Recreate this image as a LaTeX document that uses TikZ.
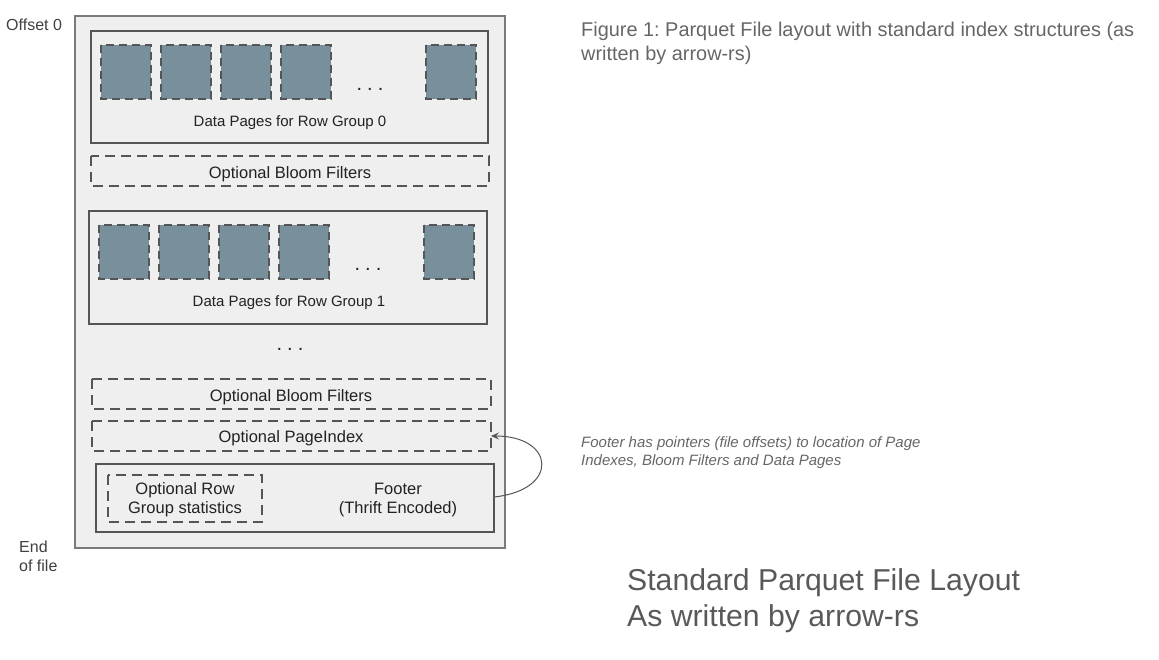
\documentclass[tikz,border=0pt]{standalone}
\usepackage{fontspec}
\setmainfont{Liberation Sans}
\usetikzlibrary{arrows.meta}
\frenchspacing
\definecolor{outerfill}{HTML}{EFEFEF}
\definecolor{outerline}{HTML}{7A7A7A}
\definecolor{boxline}{HTML}{555555}
\definecolor{pagefill}{HTML}{78909C}
\definecolor{txtdark}{HTML}{222222}
\definecolor{txtgray}{HTML}{666666}
\definecolor{titlegray}{HTML}{595959}
\tikzset{
  outerbox/.style={draw=outerline, fill=outerfill, line width=1.2pt},
  groupbox/.style={draw=boxline, line width=2.4pt},
  optbox/.style={draw=boxline, line width=2.4pt, dash pattern=on 10pt off 6pt},
  pagebox/.style={draw=boxline, fill=pagefill, line width=2.4pt, dash pattern=on 8pt off 5pt},
  lbl/.style={text=txtdark, font=\fontsize{15}{18}\selectfont, inner sep=0pt},
  lblbig/.style={text=txtdark, font=\fontsize{16.5}{20}\selectfont, inner sep=0pt, align=center},
  side/.style={text=black!75, font=\fontsize{16}{20}\selectfont, inner sep=0pt, align=left},
  dots/.style={text=txtdark, font=\fontsize{20}{20}\selectfont, inner sep=0pt},
  ptr/.style={draw=boxline, line width=1pt, -{Stealth[length=8pt,width=7pt,inset=3pt]}},
}
\newcommand{\mydots}{.\hspace{5pt}.\hspace{5pt}.}
\begin{document}
\begin{tikzpicture}[x=1pt,y=-1pt]
\useasboundingbox (0,0) rectangle (1159,660);
% outer file
\draw[outerbox] (75,16) rectangle (505,548);
% row group 0
\draw[groupbox] (91,31) rectangle (488,143);
\foreach \x in {101,161,221,281,426}{
  \draw[pagebox] (\x,45) rectangle ++(50,54);
}
\node[dots] (d0) at (370,89) {\mydots};
\node[lbl] (rg0) at (290,123) {Data Pages for Row Group 0};
% bloom 1
\draw[optbox] (91,156) rectangle (489,186);
\node[lblbig] (bf1) at (290,174) {Optional Bloom Filters};
% row group 1
\draw[groupbox] (89,211) rectangle (487,324);
\foreach \x in {99,159,219,279,424}{
  \draw[pagebox] (\x,225) rectangle ++(50,54);
}
\node[dots] (d1) at (368,269) {\mydots};
\node[lbl] (rg1) at (289,303) {Data Pages for Row Group 1};
\node[dots] (dmid) at (290,349) {\mydots};
% bloom 2
\draw[optbox] (92,379) rectangle (491,409);
\node[lblbig] (bf2) at (291,397) {Optional Bloom Filters};
% page index
\draw[optbox] (92,421) rectangle (491,451);
\coordinate (pi) at (491,436);
\node[lblbig] (pix) at (291,438) {Optional PageIndex};
% footer
\draw[groupbox] (96,464) rectangle (494,532);
\coordinate (ft) at (494,497);
\draw[optbox] (108,475) rectangle (262,522);
\node[lblbig] (rgs) at (185,500) {Optional Row\\[-1pt]Group statistics};
\node[lblbig] (foot) at (398,500) {Footer\\[-1pt](Thrift Encoded)};
% pointer
\draw[ptr] (ft) .. controls (560,490) and (555,436) .. (pi);
% side labels
\node[side, anchor=west] (off) at (6,25) {Offset 0};
\node[side, anchor=north west] (eof) at (19,541) {End\\[-1pt]of file};
% captions
\node[anchor=north west, inner sep=0pt, align=left, text=txtgray, font=\fontsize{19.9}{24}\selectfont] (fig) at (581,22) {Figure 1: Parquet File layout with standard index structures (as\\written by arrow-rs)};
\node[anchor=north west, inner sep=0pt, align=left, text=txtgray, font=\fontsize{15}{18}\selectfont\itshape] (note) at (581,436) {Footer has pointers (file offsets) to location of Page\\Indexes, Bloom Filters and Data Pages};
\node[anchor=north west, inner sep=0pt, align=left, text=titlegray, font=\fontsize{30.2}{36}\selectfont] (title) at (627,568) {Standard Parquet File Layout\\As written by arrow-rs};
\end{tikzpicture}
\end{document}
